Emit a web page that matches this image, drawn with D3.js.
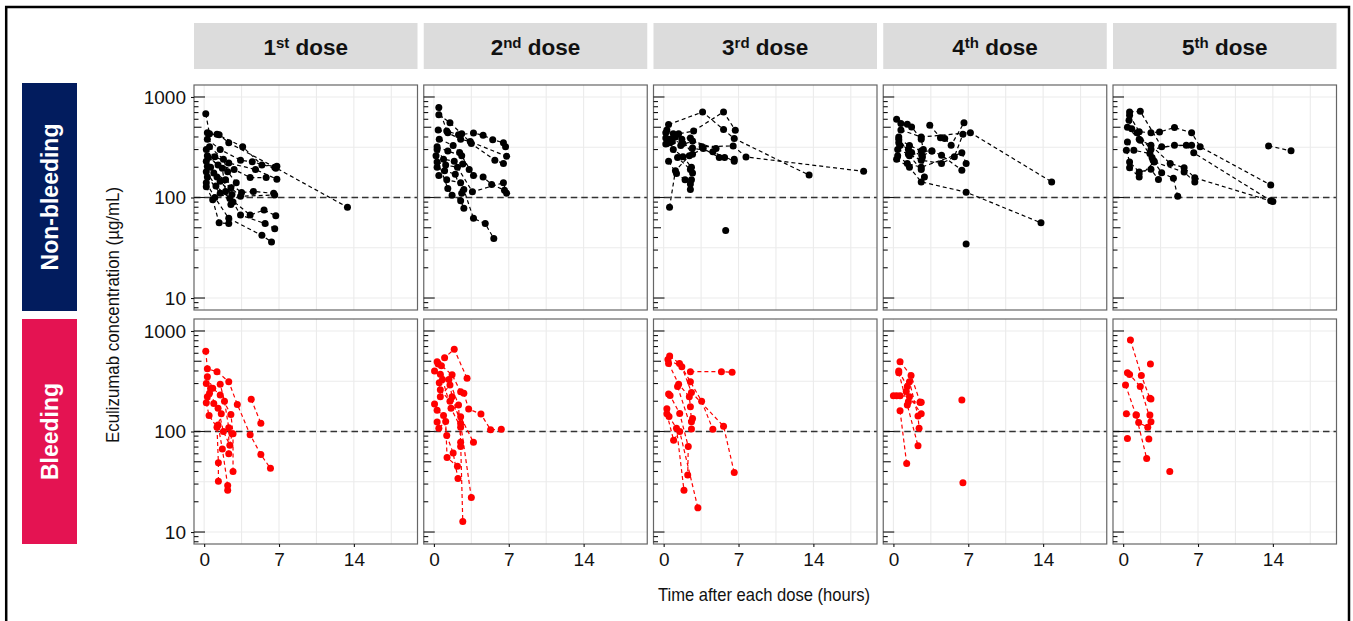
<!DOCTYPE html>
<html>
<head>
<meta charset="utf-8">
<script src="https://cdn.jsdelivr.net/npm/d3@7"></script>
<style>
  body { margin: 0; background: #fff; }
  text { font-family: "Liberation Sans", Arial, Helvetica, sans-serif; }
</style>
</head>
<body>
<script>
'use strict';

// facet labels
var doseNums = [1, 2, 3, 4, 5];
var doseSuffix = ['st', 'nd', 'rd', 'th', 'th'];
var groups = ['Non-bleeding', 'Bleeding'];
var xTicks = [0, 7, 14];
var yTicks = [10, 100, 1000];
var threshold = 100;

// each panel: list of subjects, each subject = [hours, µg/mL] points
var nb1 = [
  [[0.15, 680], [0.5, 430], [1.4, 420], [2.3, 350], [6.6, 200], [13.4, 80]],
  [[0.3, 440], [1.2, 425], [3.6, 320], [5.4, 210], [6.8, 205]],
  [[0.3, 380], [1.5, 300], [3.4, 235], [4.5, 227], [6.7, 195]],
  [[0.2, 300], [1.0, 255], [2.3, 220], [4.8, 190], [6.8, 152]],
  [[0.3, 260], [1.3, 210], [2.8, 190], [4.3, 158], [5.8, 158]],
  [[0.2, 230], [0.9, 175], [2.0, 150], [3.5, 112], [4.6, 115], [6.5, 110]],
  [[0.3, 205], [1.2, 160], [2.5, 125], [3.4, 103], [6.6, 106]],
  [[0.2, 180], [1.1, 130], [2.4, 98], [4.3, 67], [5.6, 75], [6.7, 66]],
  [[0.3, 160], [1.5, 110], [2.7, 90], [3.4, 67], [5.7, 55], [6.6, 49]],
  [[0.2, 140], [1.0, 100], [2.3, 62], [5.4, 42], [6.3, 36]],
  [[0.2, 128], [0.8, 95], [1.4, 56], [2.3, 55]],
  [[0.4, 250], [1.7, 195], [2.0, 115], [2.5, 85]],
  [[0.5, 320], [1.8, 240], [2.2, 180], [3.0, 140]],
  [[0.6, 200], [1.5, 145], [2.6, 107]]
];
var nb2 = [
  [[0.46, 784], [1.2, 460], [2.3, 420], [3.7, 438], [4.6, 416], [5.5, 376], [6.5, 351], [6.7, 319]],
  [[0.46, 667], [1.5, 555], [2.6, 430], [3.5, 344], [5.7, 235], [6.5, 218]],
  [[0.4, 470], [1.3, 440], [2.5, 380], [3.4, 360], [6.8, 257]],
  [[0.3, 320], [1.3, 290], [2.6, 260], [3.7, 166], [4.6, 160], [5.4, 135], [6.6, 118]],
  [[0.3, 226], [1.1, 210], [2.2, 200], [3.6, 114], [6.5, 140], [6.8, 110]],
  [[0.46, 166], [1.2, 150], [2.5, 140], [2.8, 120], [3.7, 62], [4.8, 55], [5.6, 39]],
  [[0.2, 260], [1.3, 123], [1.7, 105], [2.5, 93], [2.8, 78]],
  [[0.3, 200], [1.0, 185], [2.0, 170], [2.6, 110]],
  [[0.5, 380], [1.8, 330], [2.4, 280], [3.3, 190]],
  [[0.3, 300], [0.9, 240], [1.9, 230], [2.7, 215]]
];
var nb3 = [
  [[0.55, 80], [1.1, 185], [2.4, 260], [3.7, 307], [5.2, 250], [6.6, 240]],
  [[0.46, 531], [3.64, 710], [5.6, 474], [6.6, 386], [13.6, 167]],
  [[0.2, 440], [1.4, 430], [2.8, 459], [5.6, 710], [6.7, 467]],
  [[0.2, 390], [1.1, 400], [2.5, 390], [3.6, 320], [6.5, 326], [7.7, 253], [18.7, 182]],
  [[0.6, 380], [1.8, 344], [2.7, 310], [4.6, 285], [5.7, 250], [6.6, 230]],
  [[0.46, 229], [1.2, 173], [2.0, 150], [2.5, 136], [2.5, 120]],
  [[0.2, 340], [0.9, 300], [1.8, 255], [2.6, 200], [2.7, 175]],
  [[5.8, 47]],
  [[0.8, 360], [1.6, 330], [2.7, 365], [4.9, 307]],
  [[0.3, 470], [0.9, 430], [1.7, 380], [2.7, 270]],
  [[0.6, 350], [1.3, 250], [2.5, 190], [2.6, 150]]
];
var nb4 = [
  [[0.3, 599], [0.7, 545], [1.3, 535], [1.7, 504], [2.6, 380], [2.8, 300]],
  [[3.4, 522], [4.4, 394], [4.8, 386], [5.4, 331], [6.6, 555]],
  [[0.5, 380], [1.5, 330], [2.6, 290], [3.6, 290], [4.5, 263], [6.4, 187]],
  [[0.4, 300], [1.4, 270], [2.6, 235], [4.5, 218], [5.7, 254], [6.5, 426]],
  [[0.7, 470], [2.6, 400], [7.2, 442], [14.8, 143]],
  [[0.3, 240], [1.5, 200], [2.6, 143], [6.8, 113], [13.8, 56]],
  [[0.4, 260], [1.3, 218], [2.6, 200], [6.4, 278], [6.8, 218]],
  [[6.8, 34.4]],
  [[0.5, 350], [1.4, 300], [2.7, 260], [3.6, 290]],
  [[0.6, 330], [1.7, 280], [2.7, 250], [2.9, 160]],
  [[0.5, 400], [1.5, 260], [2.6, 190]]
];
var nb5 = [
  [[0.6, 710], [1.6, 720], [3.6, 319], [5.9, 331], [6.6, 278], [13.8, 93]],
  [[0.6, 657], [1.5, 450], [2.6, 442], [3.4, 449], [4.8, 496], [6.4, 442], [7.2, 319], [13.8, 133]],
  [[0.55, 586], [0.8, 484], [1.6, 371], [2.6, 331], [4.4, 218], [5.7, 198], [6.7, 157], [14.0, 91]],
  [[0.4, 357], [1.0, 295], [2.5, 274], [2.8, 235], [3.6, 176], [4.7, 155], [5.1, 103]],
  [[0.3, 295], [0.6, 226], [1.5, 179], [2.6, 191], [3.3, 151]],
  [[0.6, 198], [1.5, 160], [2.9, 226], [5.7, 179], [6.7, 143]],
  [[13.6, 326], [15.7, 291]],
  [[1.3, 440], [2.6, 300], [4.8, 331], [6.4, 331]],
  [[0.4, 500], [1.5, 380], [2.7, 250], [2.9, 230]]
];

var bl1 = [
  [[0.15, 630], [0.3, 420], [1.2, 394], [2.3, 313], [3.1, 186], [4.3, 93], [5.3, 59], [6.2, 43]],
  [[0.3, 350], [0.8, 270], [1.5, 231], [2.5, 148], [2.7, 95], [2.7, 40]],
  [[0.2, 300], [0.6, 268], [1.5, 295], [1.9, 200], [2.3, 109], [2.3, 60]],
  [[0.3, 222], [0.9, 190], [1.6, 150], [1.3, 116], [1.7, 67], [2.2, 29], [2.2, 26]],
  [[0.2, 193], [0.46, 144], [1.2, 110], [1.33, 49], [1.33, 32]],
  [[4.4, 209], [5.3, 121]],
  [[0.5, 240], [1.3, 170], [1.8, 100], [2.4, 73], [2.6, 95]]
];
var bl2 = [
  [[0.4, 470], [1.0, 543], [1.9, 657], [3.1, 338]],
  [[0.3, 495], [0.7, 452], [1.7, 366], [2.5, 249], [2.8, 240], [3.25, 167], [4.4, 149], [5.3, 104], [6.3, 105]],
  [[0.06, 400], [0.6, 372], [1.4, 330], [2.3, 184], [2.5, 78], [2.7, 12.7]],
  [[0.5, 305], [0.6, 222], [1.5, 290], [1.7, 222], [2.5, 120], [3.5, 22]],
  [[0.06, 188], [0.3, 163], [0.9, 144], [1.2, 91], [1.8, 61], [2.25, 34]],
  [[0.3, 124], [0.46, 108], [1.1, 126], [1.23, 55], [2.2, 45]],
  [[0.6, 260], [1.5, 200], [2.5, 140], [3.7, 78]],
  [[0.8, 330], [1.6, 170], [2.5, 110], [2.5, 71]]
];
var bl3 = [
  [[2.5, 394], [5.4, 394], [6.4, 388]],
  [[0.56, 563], [1.48, 476], [2.5, 313], [3.55, 200], [4.6, 105]],
  [[0.4, 520], [1.7, 440], [2.6, 245], [5.6, 113], [6.6, 39]],
  [[0.46, 476], [1.4, 295], [2.4, 222], [2.5, 176], [2.6, 125]],
  [[0.46, 236], [0.6, 228], [1.5, 151], [2.3, 71], [2.25, 37]],
  [[0.3, 168], [0.5, 141], [1.2, 108], [1.9, 26]],
  [[0.3, 150], [0.93, 82], [1.5, 100], [3.2, 17.4]],
  [[1.3, 280], [2.6, 106], [2.7, 135]]
];
var bl4 = [
  [[0.62, 495], [1.65, 360], [2.5, 196], [2.6, 196]],
  [[0.5, 400], [1.3, 280], [1.5, 313], [2.3, 143], [2.4, 108]],
  [[0.5, 385], [1.3, 184], [2.3, 72]],
  [[0, 227], [0.3, 227], [0.62, 227], [1.5, 222], [2.6, 150]],
  [[0.62, 161], [1.24, 48]],
  [[1.2, 250], [1.4, 198], [2.5, 196]],
  [[6.4, 206]],
  [[6.5, 31]]
];
var bl5 = [
  [[0.68, 814], [1.7, 360], [2.5, 214], [2.6, 210]],
  [[0.4, 385], [0.6, 370], [1.6, 281], [2.6, 125]],
  [[0.22, 290], [1.2, 146], [2.2, 54]],
  [[0.3, 150], [1.24, 146], [1.45, 123], [2.3, 110]],
  [[2.55, 469]], [[2.5, 146]], [[0.4, 85]], [[2.4, 84]], [[4.36, 40]]
];

var nonBleeding = [nb1, nb2, nb3, nb4, nb5];
var bleeding = [bl1, bl2, bl3, bl4, bl5];
var panelData = [nonBleeding, bleeding];

// styles
var groupFill = ['#021c5e', '#e41352'];
var markColor = ['#000', '#ff0000'];

var W = 1353, H = 621;
var pw = 223.5, ph = 225;
var colX = d3.range(5).map(function(i) { return 194 + i * 229.75; });
var rowY = [85, 319];

var svg = d3.select('body').append('svg')
  .attr('width', W).attr('height', H);

svg.append('rect').attr('width', W).attr('height', H).attr('fill', '#fff');
svg.append('rect')
  .attr('x', 6.2).attr('y', 7).attr('width', 1342.8).attr('height', 640)
  .attr('fill', 'none').attr('stroke', '#000').attr('stroke-width', 2.5);

var x = d3.scaleLinear().domain([-0.95, 19.95]).range([0, pw]);
var y = d3.scaleLog().domain([7.6, 1316]).range([ph, 0]);
var line = d3.line().x(function(d) { return x(d[0]); }).y(function(d) { return y(d[1]); });

// column headers
doseNums.forEach(function(n, i) {
  svg.append('rect')
    .attr('x', colX[i]).attr('y', 23).attr('width', pw).attr('height', 46)
    .attr('fill', '#dcdcdc');
  var t = svg.append('text')
    .attr('x', colX[i] + pw / 2).attr('y', 55)
    .attr('text-anchor', 'middle')
    .attr('font-size', 22.5).attr('font-weight', 'bold').attr('fill', '#111');
  t.append('tspan').text(n);
  t.append('tspan').attr('font-size', 15).attr('dy', -7.5).text(doseSuffix[i]);
  t.append('tspan').attr('dy', 7.5).text(' dose');
});

// row strips
groups.forEach(function(g, r) {
  var y0 = r === 0 ? 83 : 319;
  var y1 = r === 0 ? 311 : 544;
  svg.append('rect')
    .attr('x', 22).attr('y', y0).attr('width', 55).attr('height', y1 - y0)
    .attr('fill', groupFill[r]);
  svg.append('text')
    .attr('transform', 'translate(58,' + ((y0 + y1) / 2) + ') rotate(-90)')
    .attr('text-anchor', 'middle')
    .attr('font-size', 23).attr('font-weight', 'bold').attr('fill', '#fff')
    .text(g);
});

var xGrid = [0, 3.5, 7, 10.5, 14, 17.5];
var yGrid = [10, 31.6, 100, 316, 1000];

panelData.forEach(function(rowPanels, r) {
  rowPanels.forEach(function(subjects, c) {
    var g = svg.append('g').attr('transform', 'translate(' + colX[c] + ',' + rowY[r] + ')');

    g.append('g').selectAll('line').data(xGrid).join('line')
      .attr('x1', function(d) { return x(d); }).attr('x2', function(d) { return x(d); })
      .attr('y1', 0).attr('y2', ph)
      .attr('stroke', '#ebebeb').attr('stroke-width', 1.1);
    g.append('g').selectAll('line').data(yGrid).join('line')
      .attr('y1', function(d) { return y(d); }).attr('y2', function(d) { return y(d); })
      .attr('x1', 0).attr('x2', pw)
      .attr('stroke', '#ebebeb').attr('stroke-width', 1.1);

    // 100 µg/mL reference
    g.append('line')
      .attr('x1', 0).attr('x2', pw)
      .attr('y1', y(threshold)).attr('y2', y(threshold))
      .attr('stroke', '#333').attr('stroke-width', 1.4)
      .attr('stroke-dasharray', '6.5,4');

    g.append('g').selectAll('path').data(subjects).join('path')
      .attr('d', line)
      .attr('fill', 'none')
      .attr('stroke', markColor[r]).attr('stroke-width', 1.2)
      .attr('stroke-dasharray', '4,3');

    var pts = [];
    subjects.forEach(function(s) { s.forEach(function(p) { pts.push(p); }); });
    g.append('g').selectAll('circle').data(pts).join('circle')
      .attr('cx', function(d) { return x(d[0]); })
      .attr('cy', function(d) { return y(d[1]); })
      .attr('r', 3.5)
      .attr('fill', markColor[r]);

    g.append('rect')
      .attr('width', pw).attr('height', ph)
      .attr('fill', 'none').attr('stroke', '#666').attr('stroke-width', 1.2);

    // log ticks along the left edge
    var lt = [];
    [1, 10, 100, 1000].forEach(function(base) {
      d3.range(1, 10).forEach(function(m) {
        var v = base * m;
        if (v >= 7.6 && v <= 1316) { lt.push({ v: v, m: m }); }
      });
    });
    g.append('g').selectAll('line').data(lt).join('line')
      .attr('x1', 0)
      .attr('x2', function(d) { return d.m === 1 ? 11 : (d.m === 5 ? 7.5 : 4.5); })
      .attr('y1', function(d) { return y(d.v); }).attr('y2', function(d) { return y(d.v); })
      .attr('stroke', '#111').attr('stroke-width', 1.1);

    if (c === 0) {
      var ya = g.append('g').call(d3.axisLeft(y).tickValues(yTicks).tickFormat(d3.format('d')).tickSize(3).tickPadding(5));
      ya.select('.domain').remove();
      ya.selectAll('line').attr('stroke', '#111').attr('stroke-width', 1.1);
      ya.selectAll('text').attr('font-size', 19).attr('fill', '#111')
        .attr('font-family', '"Liberation Sans", Arial, sans-serif');
    }
    if (r === 1) {
      var xa = g.append('g').attr('transform', 'translate(0,' + ph + ')')
        .call(d3.axisBottom(x).tickValues(xTicks).tickSize(3).tickPadding(6));
      xa.select('.domain').remove();
      xa.selectAll('line').attr('stroke', '#111').attr('stroke-width', 1.1);
      xa.selectAll('text').attr('font-size', 19).attr('fill', '#111')
        .attr('font-family', '"Liberation Sans", Arial, sans-serif');
    }
  });
});

// axis titles
svg.append('text')
  .attr('transform', 'translate(119,315) rotate(-90)')
  .attr('text-anchor', 'middle')
  .attr('font-size', 19).attr('fill', '#111')
  .attr('font-family', '"Liberation Sans Narrow", "DejaVu Sans Condensed", sans-serif')
  .attr('textLength', 256).attr('lengthAdjust', 'spacingAndGlyphs')
  .text('Eculizumab concentration (µg/mL)');

svg.append('text')
  .attr('x', 764).attr('y', 601)
  .attr('text-anchor', 'middle')
  .attr('font-size', 19).attr('fill', '#111')
  .attr('font-family', '"Liberation Sans Narrow", "DejaVu Sans Condensed", sans-serif')
  .attr('textLength', 212).attr('lengthAdjust', 'spacingAndGlyphs')
  .text('Time after each dose (hours)');
</script>
</body>
</html>
